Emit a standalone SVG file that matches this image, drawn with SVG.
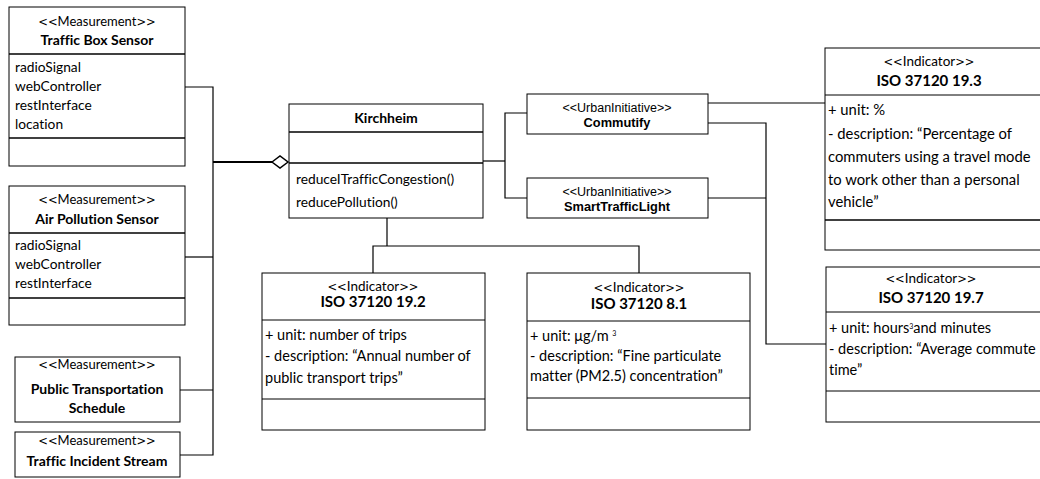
<svg xmlns="http://www.w3.org/2000/svg" width="1040" height="479" viewBox="0 0 1040 479">
  <style>
    text { font-variant-ligatures: none; }
    .box { fill: #fff; stroke: #000; stroke-width: 1; }
    .sep { stroke: #000; stroke-width: 1.5; }
    .sep1 { stroke: #000; stroke-width: 1; }
    .st { font-family: Lato, "Open Sans", sans-serif; font-size: 13px; fill: #000; text-anchor: middle; }
    .st2 { font-family: Lato, "Open Sans", sans-serif; font-size: 13.5px; fill: #000; text-anchor: middle; }
    .br { font-family: "DejaVu Sans", sans-serif; font-size: 11.5px; }
    .nm { font-family: Lato, "Open Sans", sans-serif; font-size: 14px; font-weight: bold; fill: #000; text-anchor: middle; }
    .nm2 { font-family: Lato, "Open Sans", sans-serif; font-size: 15px; font-weight: bold; fill: #000; text-anchor: middle; }
    .at { font-family: Lato, "Open Sans", sans-serif; font-size: 13.75px; fill: #000; }
    .at2 { font-family: Lato, "Open Sans", sans-serif; font-size: 14.5px; fill: #000; }
    .sup { font-size: 7px; }
    .ust { font-family: "Liberation Sans", Arial, sans-serif; font-size: 12.5px; fill: #000; text-anchor: middle; }
    .unm { font-family: "Liberation Sans", Arial, sans-serif; font-size: 12.8px; font-weight: bold; fill: #000; text-anchor: middle; }
    .conn { fill: none; stroke: #000; stroke-width: 1.2; }
  </style>

  <!-- associations and aggregation -->
  <g id="connectors">
    <path class="conn" d="M185,87 H213 V455 H180"/>
    <path class="conn" d="M185,257 H213"/>
    <path class="conn" d="M180,390 H213"/>
    <path class="conn" d="M213,162 H272" style="stroke-width:1.8"/>
    <polygon points="272,162 280,156 288,162 280,168" fill="#fff" stroke="#000" stroke-width="1.5"/>
    <path class="conn" d="M483,161 H505"/>
    <path class="conn" d="M527,113 H505 V198 H527"/>
    <path class="conn" d="M387,218 V246"/>
    <path class="conn" d="M373,273 V246 H639 V273"/>
    <path class="conn" d="M708,103 H825"/>
    <path class="conn" d="M708,123 H766 V344 H826"/>
    <path class="conn" d="M708,198 H766"/>
  </g>

  <!-- measurement sources -->
  <g id="traffic-box-sensor">
    <rect class="box" x="9" y="7" width="176" height="159"/>
    <line class="sep" x1="9" y1="54" x2="185" y2="54"/>
    <line class="sep" x1="9" y1="138" x2="185" y2="138"/>
    <text class="st" x="97" y="26"><tspan class="br">&lt;&lt;</tspan>Measurement<tspan class="br">&gt;&gt;</tspan></text>
    <text class="nm" x="97" y="45">Traffic Box Sensor</text>
    <text class="at" x="15" y="72">radioSignal</text>
    <text class="at" x="15" y="91">webController</text>
    <text class="at" x="15" y="110">restInterface</text>
    <text class="at" x="15" y="129">location</text>
  </g>

  <g id="air-pollution-sensor">
    <rect class="box" x="9" y="186" width="176" height="139"/>
    <line class="sep" x1="9" y1="233" x2="185" y2="233"/>
    <line class="sep" x1="9" y1="298" x2="185" y2="298"/>
    <text class="st" x="97" y="204"><tspan class="br">&lt;&lt;</tspan>Measurement<tspan class="br">&gt;&gt;</tspan></text>
    <text class="nm" x="97" y="224">Air Pollution Sensor</text>
    <text class="at" x="15" y="250">radioSignal</text>
    <text class="at" x="15" y="269">webController</text>
    <text class="at" x="15" y="288">restInterface</text>
  </g>

  <g id="public-transportation-schedule">
    <rect class="box" x="15" y="357" width="165" height="65"/>
    <text class="st" x="97" y="369"><tspan class="br">&lt;&lt;</tspan>Measurement<tspan class="br">&gt;&gt;</tspan></text>
    <text class="nm" x="97" y="394">Public Transportation</text>
    <text class="nm" x="97" y="413">Schedule</text>
  </g>

  <g id="traffic-incident-stream">
    <rect class="box" x="15" y="432" width="165" height="45"/>
    <text class="st" x="97" y="445"><tspan class="br">&lt;&lt;</tspan>Measurement<tspan class="br">&gt;&gt;</tspan></text>
    <text class="nm" x="97" y="466">Traffic Incident Stream</text>
  </g>

  <!-- city -->
  <g id="kirchheim">
    <rect class="box" x="289" y="104" width="194" height="114"/>
    <line class="sep" x1="289" y1="132" x2="483" y2="132"/>
    <line class="sep" x1="289" y1="163" x2="483" y2="163"/>
    <text class="nm" x="386" y="123">Kirchheim</text>
    <text class="at" x="296" y="184">reduceITrafficCongestion()</text>
    <text class="at" x="296" y="207">reducePollution()</text>
  </g>

  <!-- urban initiatives -->
  <g id="commutify">
    <rect class="box" x="527" y="94" width="181" height="40"/>
    <text class="ust" x="617" y="112">&lt;&lt;UrbanInitiative&gt;&gt;</text>
    <text class="unm" x="617" y="127">Commutify</text>
  </g>

  <g id="smart-traffic-light">
    <rect class="box" x="527" y="178" width="181" height="40"/>
    <text class="ust" x="617" y="196">&lt;&lt;UrbanInitiative&gt;&gt;</text>
    <text class="unm" x="617" y="211">SmartTrafficLight</text>
  </g>

  <!-- indicators -->
  <g id="iso-19-2">
    <rect class="box" x="262" y="273" width="223" height="157"/>
    <line class="sep1" x1="262" y1="320" x2="485" y2="320"/>
    <line class="sep1" x1="262" y1="399" x2="485" y2="399"/>
    <text class="st2" x="373" y="291"><tspan class="br">&lt;&lt;</tspan>Indicator<tspan class="br">&gt;&gt;</tspan></text>
    <text class="nm2" x="373" y="307">ISO 37120 19.2</text>
    <text class="at2" x="265" y="340">+ unit: number of trips</text>
    <text class="at2" x="265" y="361">- description: “Annual number of</text>
    <text class="at2" x="265" y="383">public transport trips”</text>
  </g>

  <g id="iso-8-1">
    <rect class="box" x="527" y="273" width="223" height="157"/>
    <line class="sep1" x1="527" y1="321" x2="750" y2="321"/>
    <line class="sep1" x1="527" y1="398" x2="750" y2="398"/>
    <text class="st2" x="639" y="292"><tspan class="br">&lt;&lt;</tspan>Indicator<tspan class="br">&gt;&gt;</tspan></text>
    <text class="nm2" x="639" y="309">ISO 37120 8.1</text>
    <text class="at2" x="530" y="341">+ unit: μg/m <tspan class="sup" dy="-5">3</tspan></text>
    <text class="at2" x="530" y="361">- description: “Fine particulate</text>
    <text class="at2" x="530" y="381">matter (PM2.5) concentration”</text>
  </g>

  <g id="iso-19-3">
    <rect class="box" x="825" y="48" width="220" height="202"/>
    <line class="sep1" x1="825" y1="95" x2="1045" y2="95"/>
    <line class="sep" x1="825" y1="220" x2="1045" y2="220"/>
    <text class="st2" x="929" y="66"><tspan class="br">&lt;&lt;</tspan>Indicator<tspan class="br">&gt;&gt;</tspan></text>
    <text class="nm2" x="929" y="86">ISO 37120 19.3</text>
    <text class="at2" x="828" y="115" style="font-size:14.8px">+ unit: %</text>
    <text class="at2" x="828" y="139" style="font-size:14.8px">- description: “Percentage of</text>
    <text class="at2" x="828" y="162" style="font-size:14.8px">commuters using a travel mode</text>
    <text class="at2" x="828" y="185" style="font-size:14.8px">to work other than a personal</text>
    <text class="at2" x="828" y="207" style="font-size:14.8px">vehicle”</text>
  </g>

  <g id="iso-19-7">
    <rect class="box" x="826" y="267" width="220" height="155"/>
    <line class="sep1" x1="826" y1="312" x2="1046" y2="312"/>
    <line class="sep1" x1="826" y1="391" x2="1046" y2="391"/>
    <text class="st2" x="931" y="283"><tspan class="br">&lt;&lt;</tspan>Indicator<tspan class="br">&gt;&gt;</tspan></text>
    <text class="nm2" x="931" y="303">ISO 37120 19.7</text>
    <text class="at2" x="829" y="333">+ unit: hours<tspan class="sup" dy="-4">3</tspan><tspan dy="4">and minutes</tspan></text>
    <text class="at2" x="829" y="354">- description: “Average commute</text>
    <text class="at2" x="829" y="375">time”</text>
  </g>
</svg>
